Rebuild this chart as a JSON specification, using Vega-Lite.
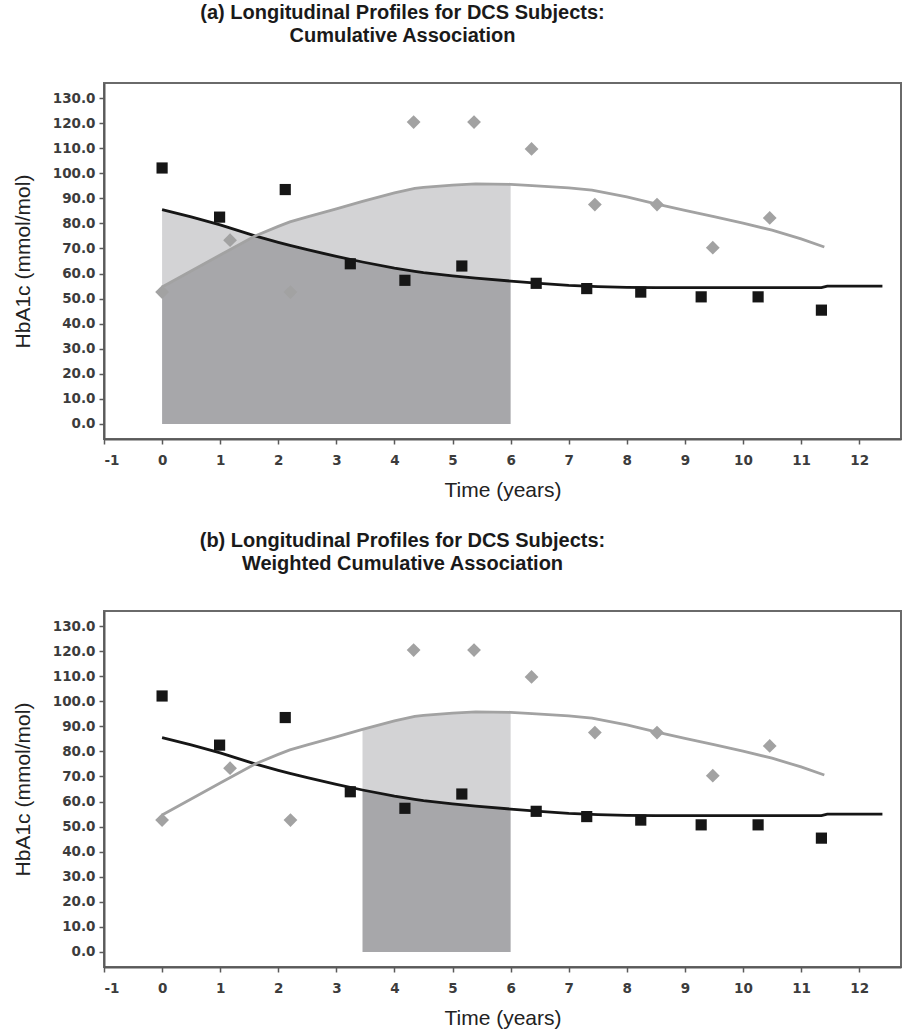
{
  "$schema": "https://vega.github.io/schema/vega-lite/v6.json",
  "background": "white",
  "padding": {"left": 11, "top": 2, "right": 0, "bottom": 0},
  "spacing": 28,
  "config": {
    "view": {"stroke": "#6a6a6a", "strokeWidth": 2},
    "axis": {
      "grid": false,
      "domainColor": "#5a5a5a",
      "domainWidth": 2,
      "tickColor": "#5a5a5a",
      "tickSize": 5,
      "tickWidth": 1.5,
      "labelOverlap": false,
      "labelFont": "DejaVu Sans",
      "labelFontSize": 13.5,
      "labelFontWeight": "bold",
      "labelColor": "#3c3c3c",
      "titleFont": "Liberation Sans",
      "titleFontSize": 21,
      "titleFontWeight": "normal",
      "titleColor": "#222222"
    },
    "title": {
      "font": "Liberation Sans",
      "fontSize": 20,
      "fontWeight": "bold",
      "color": "#1a1a1a",
      "anchor": "middle",
      "frame": "group",
      "dx": -100,
      "lineHeight": 23,
      "offset": 37
    }
  },
  "datasets": {
    "curves": [
      {"t": 0, "v": 85.5, "s": "black"},
      {"t": 0.5, "v": 82.6, "s": "black"},
      {"t": 1, "v": 79.4, "s": "black"},
      {"t": 1.6, "v": 75.0, "s": "black"},
      {"t": 2, "v": 72.4, "s": "black"},
      {"t": 2.2, "v": 71.2, "s": "black"},
      {"t": 2.5, "v": 69.5, "s": "black"},
      {"t": 3, "v": 66.8, "s": "black"},
      {"t": 3.45, "v": 64.6, "s": "black"},
      {"t": 4, "v": 62.2, "s": "black"},
      {"t": 4.35, "v": 60.9, "s": "black"},
      {"t": 4.5, "v": 60.4, "s": "black"},
      {"t": 5, "v": 59.1, "s": "black"},
      {"t": 5.4, "v": 58.2, "s": "black"},
      {"t": 6, "v": 57.0, "s": "black"},
      {"t": 6.5, "v": 56.1, "s": "black"},
      {"t": 7, "v": 55.3, "s": "black"},
      {"t": 7.5, "v": 54.8, "s": "black"},
      {"t": 8, "v": 54.5, "s": "black"},
      {"t": 8.5, "v": 54.4, "s": "black"},
      {"t": 9, "v": 54.4, "s": "black"},
      {"t": 10, "v": 54.4, "s": "black"},
      {"t": 11, "v": 54.4, "s": "black"},
      {"t": 11.35, "v": 54.4, "s": "black"},
      {"t": 11.45, "v": 55.0, "s": "black"},
      {"t": 12.4, "v": 55.0, "s": "black"},
      {"t": 0, "v": 54.6, "s": "gray"},
      {"t": 0.5, "v": 61.0, "s": "gray"},
      {"t": 1, "v": 67.4, "s": "gray"},
      {"t": 1.6, "v": 75.0, "s": "gray"},
      {"t": 2, "v": 78.8, "s": "gray"},
      {"t": 2.2, "v": 80.6, "s": "gray"},
      {"t": 2.5, "v": 82.6, "s": "gray"},
      {"t": 3, "v": 85.8, "s": "gray"},
      {"t": 3.45, "v": 88.8, "s": "gray"},
      {"t": 4, "v": 92.2, "s": "gray"},
      {"t": 4.35, "v": 94.0, "s": "gray"},
      {"t": 4.5, "v": 94.4, "s": "gray"},
      {"t": 5, "v": 95.3, "s": "gray"},
      {"t": 5.4, "v": 95.8, "s": "gray"},
      {"t": 6, "v": 95.6, "s": "gray"},
      {"t": 6.3, "v": 95.2, "s": "gray"},
      {"t": 7, "v": 94.2, "s": "gray"},
      {"t": 7.4, "v": 93.3, "s": "gray"},
      {"t": 8, "v": 90.6, "s": "gray"},
      {"t": 8.5, "v": 87.8, "s": "gray"},
      {"t": 9, "v": 85.2, "s": "gray"},
      {"t": 9.5, "v": 82.7, "s": "gray"},
      {"t": 10, "v": 80.1, "s": "gray"},
      {"t": 10.5, "v": 77.3, "s": "gray"},
      {"t": 11, "v": 73.8, "s": "gray"},
      {"t": 11.4, "v": 70.6, "s": "gray"}
    ],
    "points": [
      {"t": 0, "v": 102.1, "s": "black"},
      {"t": 0.99, "v": 82.5, "s": "black"},
      {"t": 2.12, "v": 93.5, "s": "black"},
      {"t": 3.24, "v": 63.9, "s": "black"},
      {"t": 4.18, "v": 57.3, "s": "black"},
      {"t": 5.16, "v": 63.0, "s": "black"},
      {"t": 6.44, "v": 56.1, "s": "black"},
      {"t": 7.31, "v": 54.0, "s": "black"},
      {"t": 8.24, "v": 52.6, "s": "black"},
      {"t": 9.28, "v": 50.7, "s": "black"},
      {"t": 10.26, "v": 50.7, "s": "black"},
      {"t": 11.35, "v": 45.4, "s": "black"},
      {"t": 0, "v": 52.6, "s": "gray"},
      {"t": 1.17, "v": 73.3, "s": "gray"},
      {"t": 2.21, "v": 52.6, "s": "gray"},
      {"t": 4.33, "v": 120.4, "s": "gray"},
      {"t": 5.37, "v": 120.4, "s": "gray"},
      {"t": 6.36, "v": 109.7, "s": "gray"},
      {"t": 7.45, "v": 87.5, "s": "gray"},
      {"t": 8.52, "v": 87.5, "s": "gray"},
      {"t": 9.48, "v": 70.3, "s": "gray"},
      {"t": 10.46, "v": 82.2, "s": "gray"}
    ],
    "shadeA": [
      {"t": 0, "lo": 54.6, "hi": 85.5},
      {"t": 0.5, "lo": 61.0, "hi": 82.6},
      {"t": 1, "lo": 67.4, "hi": 79.4},
      {"t": 1.6, "lo": 75.0, "hi": 75.0},
      {"t": 2, "lo": 72.4, "hi": 78.8},
      {"t": 2.2, "lo": 71.2, "hi": 80.6},
      {"t": 2.5, "lo": 69.5, "hi": 82.6},
      {"t": 3, "lo": 66.8, "hi": 85.8},
      {"t": 3.45, "lo": 64.6, "hi": 88.8},
      {"t": 4, "lo": 62.2, "hi": 92.2},
      {"t": 4.35, "lo": 60.9, "hi": 94.0},
      {"t": 4.5, "lo": 60.4, "hi": 94.4},
      {"t": 5, "lo": 59.1, "hi": 95.3},
      {"t": 5.4, "lo": 58.2, "hi": 95.8},
      {"t": 6, "lo": 57.0, "hi": 95.6}
    ],
    "shadeB": [
      {"t": 3.45, "lo": 64.6, "hi": 88.8},
      {"t": 4, "lo": 62.2, "hi": 92.2},
      {"t": 4.35, "lo": 60.9, "hi": 94.0},
      {"t": 4.5, "lo": 60.4, "hi": 94.4},
      {"t": 5, "lo": 59.1, "hi": 95.3},
      {"t": 5.4, "lo": 58.2, "hi": 95.8},
      {"t": 6, "lo": 57.0, "hi": 95.6}
    ]
  },
  "vconcat": [
    {
      "title": {"text": ["(a) Longitudinal Profiles for DCS Subjects:", "Cumulative Association"]},
      "width": 797,
      "height": 356,
      "encoding": {
        "x": {"field": "t", "type": "quantitative", "scale": {"domain": [-1, 12.72], "nice": false, "zero": false},
          "axis": {"values": [-1,0,1,2,3,4,5,6,7,8,9,10,11,12], "labelOverlap": false, "labelExpr": "datum.value < 0 ? '-' + abs(datum.value) : '' + datum.value", "title": "Time (years)", "labelPadding": 9, "titlePadding": 13}}
      },
      "layer": [
        {
          "data": {"name": "shadeA"},
          "mark": {"type": "area", "color": "#d3d3d5", "opacity": 1},
          "encoding": {
            "y": {"field": "hi", "type": "quantitative", "scale": {"domain": [-6, 136], "nice": false, "zero": false},
              "axis": {"values": [0,10,20,30,40,50,60,70,80,90,100,110,120,130], "tickCount": 14, "labelOverlap": false, "format": ".1f", "title": "HbA1c (mmol/mol)", "labelPadding": 4, "titlePadding": 19}},
            "y2": {"field": "lo"}
          }
        },
        {
          "data": {"name": "shadeA"},
          "mark": {"type": "area", "color": "#a7a7aa", "opacity": 1},
          "encoding": {
            "y": {"field": "lo", "type": "quantitative", "axis": {"values": [0,10,20,30,40,50,60,70,80,90,100,110,120,130], "tickCount": 14, "labelOverlap": false, "format": ".1f", "title": "HbA1c (mmol/mol)", "labelPadding": 4, "titlePadding": 19}},
            "y2": {"datum": 0}
          }
        },
        {
          "data": {"name": "curves"},
          "mark": {"type": "line", "strokeWidth": 2.8},
          "encoding": {
            "y": {"field": "v", "type": "quantitative", "axis": {"values": [0,10,20,30,40,50,60,70,80,90,100,110,120,130], "tickCount": 14, "labelOverlap": false, "format": ".1f", "title": "HbA1c (mmol/mol)", "labelPadding": 4, "titlePadding": 19}},
            "color": {"field": "s", "type": "nominal", "scale": {"domain": ["black", "gray"], "range": ["#161616", "#a2a2a2"]}, "legend": null}
          }
        },
        {
          "data": {"name": "points"},
          "mark": {"type": "point", "filled": true, "opacity": 1},
          "encoding": {
            "y": {"field": "v", "type": "quantitative", "axis": {"values": [0,10,20,30,40,50,60,70,80,90,100,110,120,130], "tickCount": 14, "labelOverlap": false, "format": ".1f", "title": "HbA1c (mmol/mol)", "labelPadding": 4, "titlePadding": 19}},
            "color": {"field": "s", "type": "nominal", "scale": {"domain": ["black", "gray"], "range": ["#161616", "#9c9c9c"]}, "legend": null},
            "shape": {"field": "s", "type": "nominal", "scale": {"domain": ["black", "gray"], "range": ["square", "diamond"]}, "legend": null},
            "size": {"field": "s", "type": "nominal", "scale": {"domain": ["black", "gray"], "range": [125, 190]}, "legend": null}
          }
        }
      ]
    },
    {
      "title": {"text": ["(b) Longitudinal Profiles for DCS Subjects:", "Weighted Cumulative Association"]},
      "width": 797,
      "height": 356,
      "encoding": {
        "x": {"field": "t", "type": "quantitative", "scale": {"domain": [-1, 12.72], "nice": false, "zero": false},
          "axis": {"values": [-1,0,1,2,3,4,5,6,7,8,9,10,11,12], "labelOverlap": false, "labelExpr": "datum.value < 0 ? '-' + abs(datum.value) : '' + datum.value", "title": "Time (years)", "labelPadding": 9, "titlePadding": 13}}
      },
      "layer": [
        {
          "data": {"name": "shadeB"},
          "mark": {"type": "area", "color": "#d3d3d5", "opacity": 1},
          "encoding": {
            "y": {"field": "hi", "type": "quantitative", "scale": {"domain": [-6, 136], "nice": false, "zero": false},
              "axis": {"values": [0,10,20,30,40,50,60,70,80,90,100,110,120,130], "tickCount": 14, "labelOverlap": false, "format": ".1f", "title": "HbA1c (mmol/mol)", "labelPadding": 4, "titlePadding": 19}},
            "y2": {"field": "lo"}
          }
        },
        {
          "data": {"name": "shadeB"},
          "mark": {"type": "area", "color": "#a7a7aa", "opacity": 1},
          "encoding": {
            "y": {"field": "lo", "type": "quantitative", "axis": {"values": [0,10,20,30,40,50,60,70,80,90,100,110,120,130], "tickCount": 14, "labelOverlap": false, "format": ".1f", "title": "HbA1c (mmol/mol)", "labelPadding": 4, "titlePadding": 19}},
            "y2": {"datum": 0}
          }
        },
        {
          "data": {"name": "curves"},
          "mark": {"type": "line", "strokeWidth": 2.8},
          "encoding": {
            "y": {"field": "v", "type": "quantitative", "axis": {"values": [0,10,20,30,40,50,60,70,80,90,100,110,120,130], "tickCount": 14, "labelOverlap": false, "format": ".1f", "title": "HbA1c (mmol/mol)", "labelPadding": 4, "titlePadding": 19}},
            "color": {"field": "s", "type": "nominal", "scale": {"domain": ["black", "gray"], "range": ["#161616", "#a2a2a2"]}, "legend": null}
          }
        },
        {
          "data": {"name": "points"},
          "mark": {"type": "point", "filled": true, "opacity": 1},
          "encoding": {
            "y": {"field": "v", "type": "quantitative", "axis": {"values": [0,10,20,30,40,50,60,70,80,90,100,110,120,130], "tickCount": 14, "labelOverlap": false, "format": ".1f", "title": "HbA1c (mmol/mol)", "labelPadding": 4, "titlePadding": 19}},
            "color": {"field": "s", "type": "nominal", "scale": {"domain": ["black", "gray"], "range": ["#161616", "#9c9c9c"]}, "legend": null},
            "shape": {"field": "s", "type": "nominal", "scale": {"domain": ["black", "gray"], "range": ["square", "diamond"]}, "legend": null},
            "size": {"field": "s", "type": "nominal", "scale": {"domain": ["black", "gray"], "range": [125, 190]}, "legend": null}
          }
        }
      ]
    }
  ]
}
